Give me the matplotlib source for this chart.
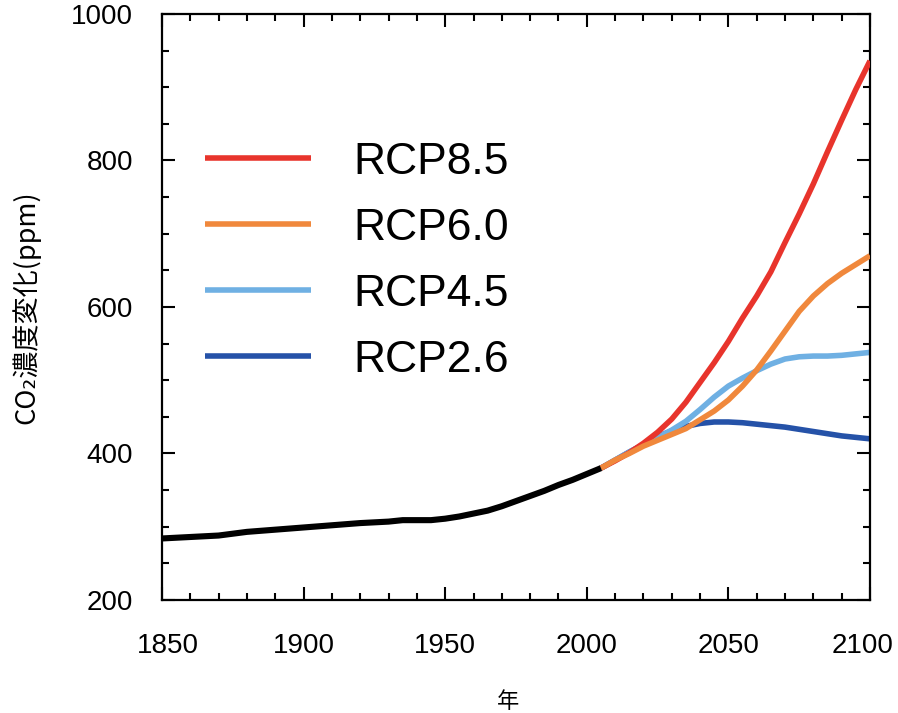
import matplotlib
matplotlib.use("Agg")
from matplotlib import pyplot as plt
from matplotlib.ticker import MultipleLocator
from matplotlib.transforms import ScaledTranslation

plt.rcParams['font.family'] = ['Liberation Sans', 'Noto Sans CJK JP', 'DejaVu Sans']

# historical record (black)
hist_years = [1850, 1860, 1870, 1880, 1890, 1900, 1910, 1920, 1930, 1935, 1940, 1945,
              1950, 1955, 1960, 1965, 1970, 1975, 1980, 1985, 1990, 1995, 2000, 2005]
hist_co2 = [284, 286, 288, 293, 296, 299, 302, 305, 307, 309, 309, 309,
            311, 314, 318, 322, 328, 335, 342, 349, 357, 364, 372, 380]

# scenarios
rcp_years = [2005, 2010, 2015, 2020, 2025, 2030, 2035, 2040, 2045, 2050, 2055, 2060,
             2065, 2070, 2075, 2080, 2085, 2090, 2095, 2100]
rcp85 = [380, 390, 401, 414, 429, 447, 470, 497, 524, 553, 585, 615,
         648, 688, 727, 768, 812, 855, 897, 936]
rcp60 = [380, 391, 400, 410, 418, 426, 434, 446, 458, 473, 492, 514,
         540, 567, 594, 615, 632, 646, 658, 670]
rcp45 = [380, 391, 402, 412, 422, 432, 444, 460, 477, 492, 503, 513,
         522, 529, 532, 533, 533, 534, 536, 538]
rcp26 = [380, 391, 402, 412, 423, 431, 437, 441, 443, 443, 442, 440,
         438, 436, 433, 430, 427, 424, 422, 420]

scenario_names = ["RCP8.5", "RCP6.0", "RCP4.5", "RCP2.6"]
scenario_values = [rcp85, rcp60, rcp45, rcp26]
scenario_colors = ["#e8342c", "#f0883c", "#6fb0e3", "#2552a8"]
draw_order = {"RCP2.6": 1, "RCP4.5": 2, "RCP8.5": 3, "RCP6.0": 4}

year_ticks = [1850, 1900, 1950, 2000, 2050, 2100]

fig = plt.figure(figsize=(8.98, 7.13), dpi=100)
ax = fig.add_axes([0.1804, 0.1585, 0.7884, 0.8219])

ax.plot(hist_years, hist_co2, color="black", lw=4.4, solid_capstyle="butt", zorder=5)
lines = {}
for name, vals, col in zip(scenario_names, scenario_values, scenario_colors):
    ln, = ax.plot(rcp_years, vals, color=col, lw=4.0, solid_capstyle="butt",
                  label=name, zorder=draw_order[name])
    lines[name] = ln

ax.set_xlim(1850, 2100)
ax.set_ylim(200, 1000)
ax.set_xticks(year_ticks)
ax.xaxis.set_minor_locator(MultipleLocator(10))
ax.yaxis.set_major_locator(MultipleLocator(200))
ax.yaxis.set_minor_locator(MultipleLocator(50))

for s in ax.spines.values():
    s.set_linewidth(1.6)
ax.tick_params(which="both", direction="in", top=True, right=True, width=1.5, colors="black")
ax.tick_params(which="major", length=9.5)
ax.tick_params(which="minor", length=5)
ax.tick_params(axis="x", which="major", labelbottom=False)
ax.tick_params(axis="y", which="major", pad=21, labelsize=20)

# year labels: the end ones sit slightly inside, as in the original
shifts = {1850: 6, 2100: -7}
for yr in year_ticks:
    off = ScaledTranslation(shifts.get(yr, 0) / 100, -33 / 100, fig.dpi_scale_trans)
    ax.text(yr, 0, str(yr), transform=ax.get_xaxis_transform() + off,
            ha="center", va="top", fontsize=20)

ax.set_ylabel("CO\u2082濃度変化(ppm)", fontsize=19.5,
              family=['Noto Sans CJK JP', 'DejaVu Sans'], labelpad=22)
ax.text(0.566, 0.0, "年", transform=fig.transFigure, ha="center", va="bottom",
        fontsize=16, family=['Noto Sans CJK JP'])

handles = [lines[n] for n in scenario_names]
ax.legend(handles, scenario_names, loc="upper left", bbox_to_anchor=(0.228, 0.801),
          bbox_transform=fig.transFigure, frameon=False, fontsize=32,
          handlelength=2.4, handletextpad=0.95, labelspacing=0.56, borderpad=0,
          borderaxespad=0)

fig.savefig("out.png", dpi=100)
